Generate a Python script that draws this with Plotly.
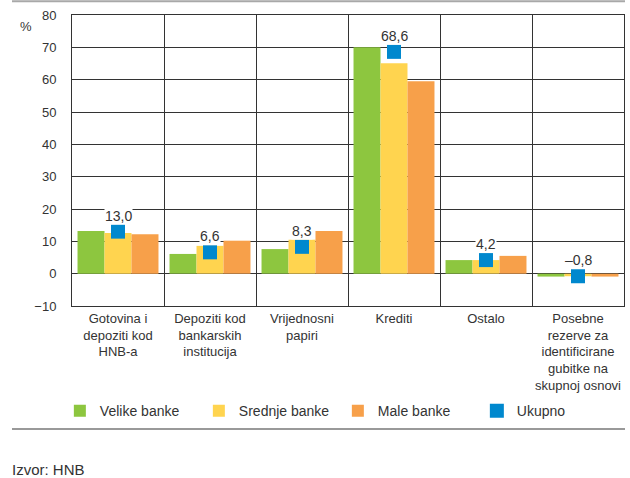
import plotly.graph_objects as go

categories = [
    "Gotovina i<br>depoziti kod<br>HNB-a",
    "Depoziti kod<br>bankarskih<br>institucija",
    "Vrijednosni<br>papiri",
    "Krediti",
    "Ostalo",
    "Posebne<br>rezerve za<br>identificirane<br>gubitke na<br>skupnoj osnovi",
]
velike = [13.2, 6.1, 7.6, 70.0, 4.2, -0.9]
srednje = [12.6, 8.6, 10.5, 65.1, 4.2, -0.8]
male = [12.2, 10.2, 13.2, 59.5, 5.5, -0.9]
ukupno = [13.0, 6.6, 8.3, 68.6, 4.2, -0.8]
ukupno_labels = ["13,0", "6,6", "8,3", "68,6", "4,2", "\u20130,8"]

FONT = "Liberation Sans, Arial, sans-serif"
TXT = "#333"
colors = {"Velike banke": "#8DC63F", "Srednje banke": "#FFD44F", "Male banke": "#F7A04A"}

fig = go.Figure()
for name, vals in [("Velike banke", velike), ("Srednje banke", srednje), ("Male banke", male)]:
    fig.add_trace(go.Bar(x=categories, y=vals, name=name, marker=dict(color=colors[name], line=dict(width=0))))

fig.add_trace(go.Scatter(x=categories, y=ukupno, name="Ukupno", mode="markers",
                         marker=dict(symbol="square", size=14, color="#0088CE")))

# value labels for the total, white box hides the gridline behind
for c, v, lab in zip(categories, ukupno, ukupno_labels):
    fig.add_annotation(x=c, y=v, text=lab, showarrow=False, yshift=16, bgcolor="white",
                       font=dict(family=FONT, size=14, color=TXT), borderpad=0)

fig.add_annotation(text="%", x=0, y=1, xref="paper", yref="paper", xshift=-54, yshift=-2,
                   showarrow=False, font=dict(family=FONT, size=13, color=TXT))
fig.add_annotation(text="Izvor: HNB", x=0, y=0, xref="paper", yref="paper", xshift=-62, yshift=-163,
                   xanchor="left", yanchor="middle", showarrow=False,
                   font=dict(family=FONT, size=15, color=TXT))

fig.add_shape(type="line", xref="paper", yref="paper", x0=-0.1087, x1=1.0018, y0=1.047, y1=1.047,
              line=dict(color="#A8A8A8", width=2))
fig.add_shape(type="line", xref="paper", yref="paper", x0=-0.1087, x1=1.0018, y0=-0.4227, y1=-0.4227,
              line=dict(color="#999999", width=2))

fig.update_layout(
    width=630, height=478,
    margin=dict(l=72, r=6, t=15, b=172),
    plot_bgcolor="white", paper_bgcolor="white",
    barmode="group", bargap=0.12, bargroupgap=0,
    font=dict(family=FONT, size=13, color=TXT),
    legend=dict(orientation="h", x=-0.022, xanchor="left", y=-0.361, yanchor="middle",
                entrywidth=94, entrywidthmode="pixels",
                font=dict(family=FONT, size=14, color=TXT), traceorder="normal"),
    showlegend=True,
)
fig.update_xaxes(tickson="boundaries", showgrid=True, gridcolor="#333", gridwidth=1,
                 showline=True, linecolor="#333", linewidth=1, mirror=True, ticks="",
                 tickangle=0, automargin=False,
                 tickfont=dict(family=FONT, size=13, color=TXT))
fig.update_yaxes(range=[-10, 80], dtick=10, showgrid=True, gridcolor="#333", gridwidth=1,
                 zeroline=True, zerolinecolor="#333", zerolinewidth=1,
                 showline=True, linecolor="#333", linewidth=1, mirror=True, ticks="",
                 ticklabelstandoff=12, automargin=False,
                 tickfont=dict(family=FONT, size=13, color=TXT))

# page body has a default 8px margin; drop it so the 630x478 figure fills the window
fig.write_html("out.html", config={"displayModeBar": False},
               post_script="document.body.style.margin='0';")
